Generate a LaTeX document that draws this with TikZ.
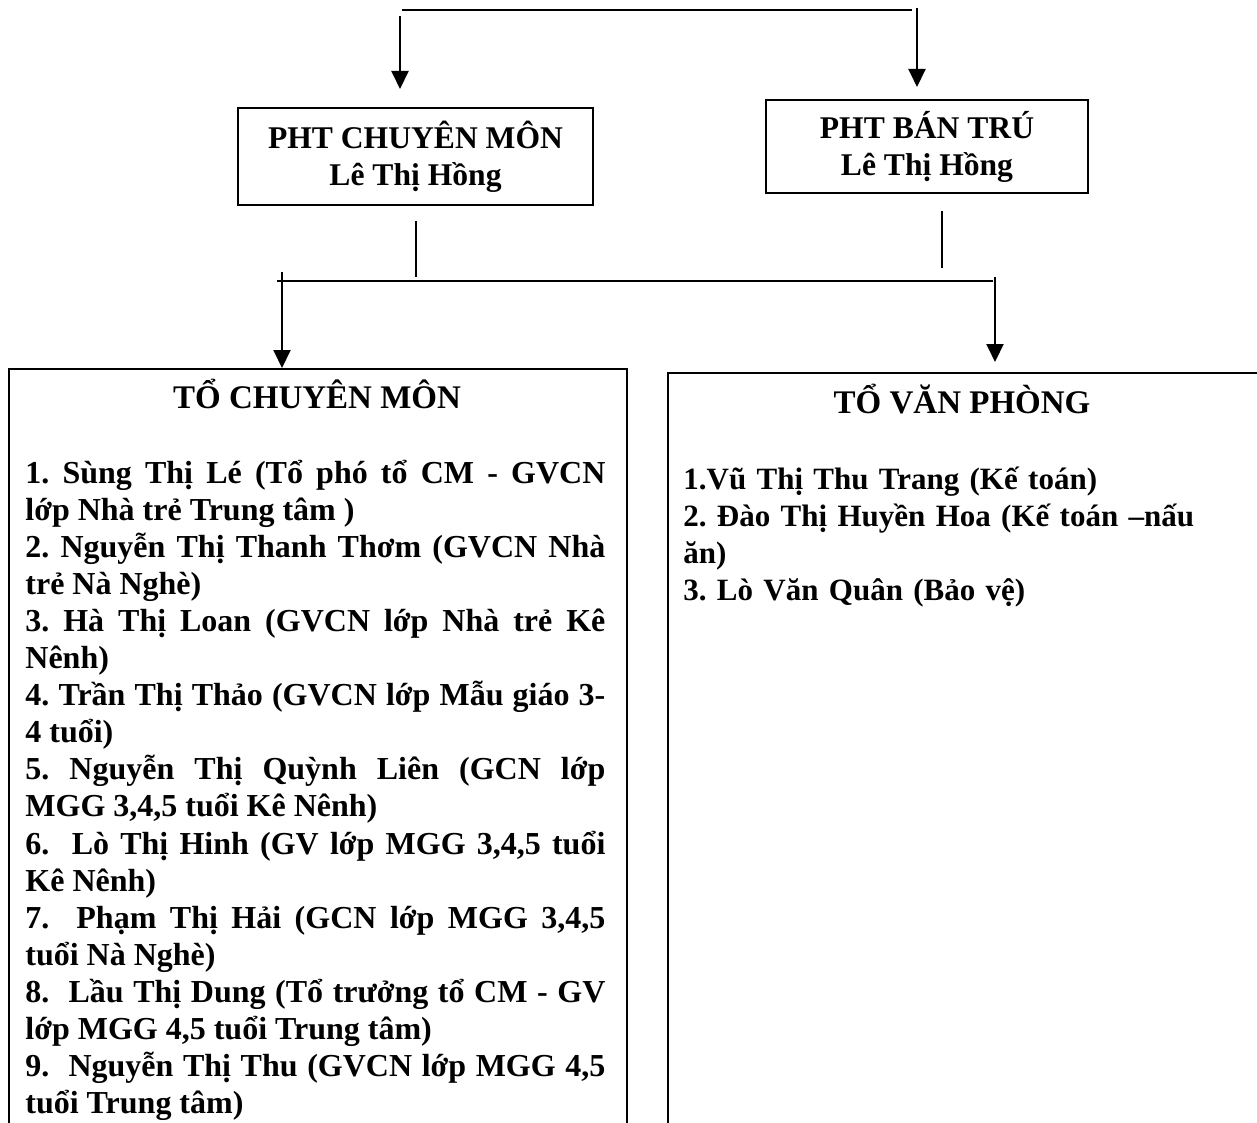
\documentclass[tikz,border=0pt]{standalone}
\usepackage{fontspec}
\setmainfont{Liberation Serif}
\usetikzlibrary{arrows.meta}
\frenchspacing
\tikzstyle{head} = [rectangle, draw=black, line width=1pt, align=center, inner sep=0pt, font=\fontsize{15.8}{18.5}\selectfont\bfseries]
\tikzstyle{body} = [rectangle, draw=black, line width=1.2pt, inner sep=0pt]
\tikzstyle{bodytitle} = [inner sep=0pt, anchor=base, font=\fontsize{16.5}{18.55}\selectfont\bfseries]
\tikzstyle{bodytext} = [inner sep=0pt, anchor=base west, text width=290pt, font=\fontsize{16}{18.55}\selectfont\bfseries]
\tikzstyle{link} = [line width=1pt]
\tikzstyle{arrow} = [line width=1pt, -{Triangle[length=9pt,width=8.5pt]}]

\begin{document}
\begin{tikzpicture}[x=0.5pt, y=-0.5pt]
\useasboundingbox (0,0) rectangle (1257,1123);
\clip (0,0) rectangle (1257,1123);

%Heads
\node (cm_head) [head, minimum width=177.5pt, minimum height=48.5pt] at (415.5,156.5) {PHT CHUYÊN MÔN\\Lê Thị Hồng};
\node (bt_head) [head, minimum width=161pt, minimum height=46.5pt] at (927,146.5) {PHT BÁN TRÚ\\Lê Thị Hồng};

%Bodies
\node (cm_body) [body, minimum width=309pt, minimum height=400pt, anchor=north west] at (8,368) {};
\node (vp_body) [body, minimum width=320pt, minimum height=400pt, anchor=north west] at (667,372) {};

%To chuyen mon
\node (cm_title) [bodytitle] at (317,408) {TỔ CHUYÊN MÔN};
\node (cm_list) [bodytext, align=justify] at (25,483) {
1. Sùng Thị Lé (Tổ phó tổ CM - GVCN\linebreak lớp Nhà trẻ Trung tâm )\\
2. Nguyễn Thị Thanh Thơm (GVCN Nhà\linebreak trẻ Nà Nghè)\\
3. Hà Thị Loan (GVCN lớp Nhà trẻ Kê\linebreak Nênh)\\
4. Trần Thị Thảo (GVCN lớp Mẫu giáo 3-\linebreak 4 tuổi)\\
5. Nguyễn Thị Quỳnh Liên (GCN lớp\linebreak MGG 3,4,5 tuổi Kê Nênh)\\
6.~ Lò Thị Hinh (GV lớp MGG 3,4,5 tuổi\linebreak Kê Nênh)\\
7.~ Phạm Thị Hải (GCN lớp MGG 3,4,5\linebreak tuổi Nà Nghè)\\
8.~ Lầu Thị Dung (Tổ trưởng tổ CM - GV\linebreak lớp MGG 4,5 tuổi Trung tâm)\\
9.~ Nguyễn Thị Thu (GVCN lớp MGG 4,5\linebreak tuổi Trung tâm)};

%To van phong
\node (vp_title) [bodytitle] at (962,413) {TỔ VĂN PHÒNG};
\node (vp_list) [bodytext, align=left, font=\fontsize{15.5}{18.55}\selectfont\bfseries] at (683,489) {
1.Vũ Thị Thu Trang (Kế toán)\\
2. Đào Thị Huyền Hoa (Kế toán –nấu\\
ăn)\\
3. Lò Văn Quân (Bảo vệ)};

%Top links
\coordinate (top_l) at (402,10);
\coordinate (top_r) at (912,10);
\coordinate (drop_cm) at (400,16);
\coordinate (drop_bt) at (917,8);
\draw [link] (top_l) -- (top_r);
\draw [arrow, shorten >=9pt] (drop_cm) -- (drop_cm |- cm_head.north);
\draw [arrow, shorten >=6pt] (drop_bt) -- (drop_bt |- bt_head.north);

%Middle links
\coordinate (bar_l) at (277,281);
\coordinate (bar_r) at (993,281);
\coordinate (drop_tcm) at (282,272);
\coordinate (drop_tvp) at (995,277);
\draw [link] (bar_l) -- (bar_r);
\draw [link, shorten <=7.5pt, shorten >=2pt] (cm_head.south) -- (cm_head.south |- bar_l);
\draw [link, shorten <=8.5pt, shorten >=6.5pt] ([xshift=7.5pt]bt_head.south) -- ([xshift=7.5pt]bt_head.south |- bar_r);
\draw [arrow] (drop_tcm) -- (drop_tcm |- cm_body.north);
\draw [arrow, shorten >=5pt] (drop_tvp) -- (drop_tvp |- vp_body.north);

\end{tikzpicture}
\end{document}
